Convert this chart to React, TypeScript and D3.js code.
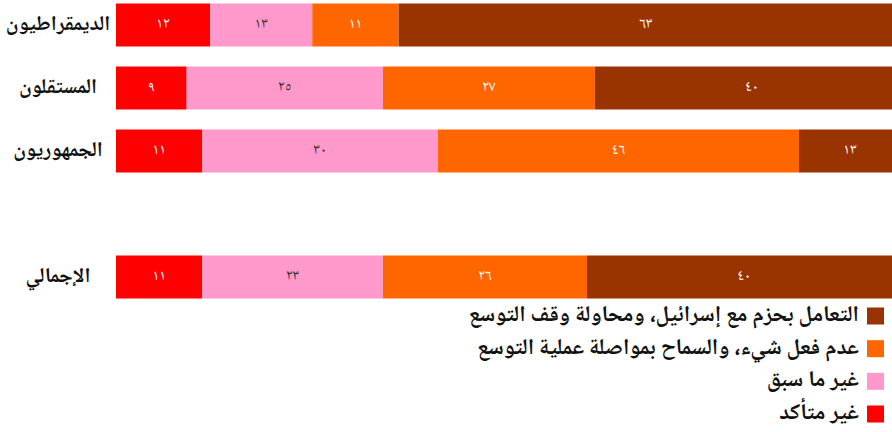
import React from 'react';
import * as d3 from 'd3';

const categories = ['الديمقراطيون', 'المستقلون', 'الجمهوريون', '', 'الإجمالي'];
const rowCategories = ['الديمقراطيون', 'المستقلون', 'الجمهوريون', 'الإجمالي'];
const seriesNames = [
  'غير متأكد',
  'غير ما سبق',
  'عدم فعل شيء، والسماح بمواصلة عملية التوسع',
  'التعامل بحزم مع إسرائيل، ومحاولة وقف التوسع',
];
const notSure = [12, 9, 11, 11];
const noneOfAbove = [13, 25, 30, 23];
const doNothing = [11, 27, 46, 26];
const actFirmly = [63, 40, 13, 40];
const colors = ['#FF0000', '#FF99CC', '#FF6600', '#993300'];
const labelColors = ['#FFFFFF', '#333333', '#FFFFFF', '#FFFFFF'];

const W = 892;
const H = 432;

const toArabicDigits = (n: number) =>
  String(n).replace(/[0-9]/g, (d) => '٠١٢٣٤٥٦٧٨٩'[Number(d)]);

export default function App() {
  const seriesValues = [notSure, noneOfAbove, doNothing, actFirmly];
  const rows = rowCategories.map((c, i) => {
    const o: any = { cat: c };
    seriesValues.forEach((s, j) => (o['s' + j] = s[i]));
    return o;
  });
  const keys = ['s0', 's1', 's2', 's3'];
  const stacked = d3.stack<any>().keys(keys)(rows);

  const x = d3.scaleLinear().domain([0, 100]).range([116, 901]);
  const y = d3
    .scaleBand<string>()
    .domain(categories)
    .range([3.5, 298.5])
    .paddingInner(20 / 63)
    .paddingOuter(0);

  const legendOrder = [3, 2, 1, 0];
  const legendY = d3.scalePoint<number>().domain(legendOrder).range([316, 414]);

  const font = "'Noto Naskh Arabic', serif";

  return (
    <svg
      width={W}
      height={H}
      style={{ position: 'absolute', left: 0, top: 0, background: '#fff' }}
      fontFamily={font}
    >
      {stacked.map((layer, j) => (
        <g key={j} fill={colors[j]}>
          {layer.map((d, i) => (
            <rect
              key={i}
              x={x(d[0])}
              y={y(rows[i].cat)}
              width={x(d[1]) - x(d[0])}
              height={y.bandwidth()}
            />
          ))}
        </g>
      ))}
      {stacked.map((layer, j) => (
        <g key={'l' + j} fill={labelColors[j]} fontSize={15} textAnchor="middle" letterSpacing={3}>
          {layer.map((d, i) => (
            <text
              key={i}
              x={(x(d[0]) + x(d[1])) / 2}
              y={(y(rows[i].cat) as number) + y.bandwidth() / 2}
              dominantBaseline="central"
            >
              {toArabicDigits(d[1] - d[0])}
            </text>
          ))}
        </g>
      ))}
      <g fontSize={21} fontWeight="bold" textAnchor="middle" fill="#111">
        {rowCategories.map((c) => (
          <text
            key={c}
            x={58}
            y={(y(c) as number) + y.bandwidth() / 2}
            dominantBaseline="central"
            direction="rtl"
          >
            {c}
          </text>
        ))}
      </g>
      <g>
        {legendOrder.map((j) => (
          <g key={j}>
            <rect x={867} y={legendY(j)! - 8.5} width={17} height={17} fill={colors[j]} />
            <text
              x={859}
              y={legendY(j)!}
              dominantBaseline="central"
              textAnchor="end"
              fontSize={22.5}
              fontWeight="bold"
              fill="#111"
            >
              {seriesNames[j]}
            </text>
          </g>
        ))}
      </g>
    </svg>
  );
}
